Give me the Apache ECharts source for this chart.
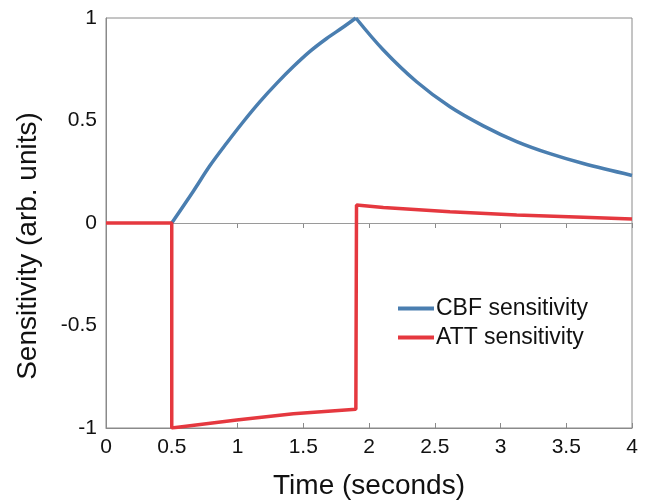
<!DOCTYPE html>
<html><head><meta charset="utf-8">
<script src="https://cdn.jsdelivr.net/npm/echarts@6/dist/echarts.min.js"></script>
<style>html,body{margin:0;padding:0;background:#fff;}#c{width:646px;height:502px;}</style>
</head><body><div id="c"></div>
<script>
var xTicks = [0, 0.5, 1, 1.5, 2, 2.5, 3, 3.5, 4];
var yTicks = [-1, -0.5, 0, 0.5, 1];
var cbfRiseTime = [0.5, 0.664, 0.791, 0.918, 1.044, 1.171, 1.298, 1.425, 1.551, 1.678, 1.805, 1.9];
var cbfRiseValue = [0, 0.155, 0.280, 0.390, 0.494, 0.592, 0.681, 0.763, 0.837, 0.900, 0.956, 1.0];
var cbfFallTime = [1.9, 2.109, 2.362, 2.616, 2.869, 3.123, 3.376, 3.63, 4.0];
var cbfFallValue = [1.0, 0.844, 0.689, 0.567, 0.474, 0.397, 0.338, 0.290, 0.232];
var attTime = [0, 0.5, 0.5, 0.994, 1.425, 1.9, 1.905, 2.109, 2.616, 3.123, 3.63, 4.0];
var attValue = [0, 0, -1.0, -0.961, -0.930, -0.909, 0.088, 0.076, 0.055, 0.039, 0.028, 0.0195];
var seriesNames = ['CBF sensitivity', 'ATT sensitivity'];

function pairs(t, v) { return t.map(function (x, i) { return [x, v[i]]; }); }

var FONT = '"Liberation Sans", Arial, Helvetica, sans-serif';
var BLUE = '#4a7eb0', RED = '#e5383f';
var chart = echarts.init(document.getElementById('c'), null, {renderer: 'canvas'});
var axisGray = '#8a8a8a';
chart.setOption({
  animation: false,
  backgroundColor: '#fff',
  grid: {left: 106, right: 14, top: 18, bottom: 74, outerBoundsMode: 'none', containLabel: false,
    show: true, borderColor: axisGray, borderWidth: 1, backgroundColor: 'transparent'},
  legend: {
    orient: 'vertical', left: 398, top: 297, padding: 0, itemWidth: 36, itemHeight: 4, itemGap: 6, icon: 'rect',
    textStyle: {fontFamily: FONT, fontSize: 23, lineHeight: 23, color: '#111', padding: [0, 0, 0, -3]},
    data: seriesNames
  },
  xAxis: [{
    type: 'value', min: xTicks[0], max: xTicks[xTicks.length - 1], interval: 0.5,
    name: 'Time (seconds)', nameLocation: 'middle', nameGap: 44,
    nameTextStyle: {fontFamily: FONT, fontSize: 28, color: '#111'},
    axisLine: {show: true, onZero: false, lineStyle: {color: axisGray, width: 1}},
    axisTick: {show: true, inside: true, length: 5, lineStyle: {color: axisGray}},
    axisLabel: {fontFamily: FONT, fontSize: 21, color: '#111', margin: 9},
    splitLine: {show: false}
  }, {
    type: 'value', position: 'top', min: xTicks[0], max: xTicks[xTicks.length - 1], interval: 0.5,
    axisLine: {show: false},
    axisTick: {show: true, inside: true, length: 5, lineStyle: {color: axisGray}},
    axisLabel: {show: false}, splitLine: {show: false}
  }],
  yAxis: {
    type: 'value', min: yTicks[0], max: yTicks[yTicks.length - 1], interval: 0.5,
    name: 'Sensitivity (arb. units)', nameLocation: 'middle', nameGap: 64,
    nameTextStyle: {fontFamily: FONT, fontSize: 28, color: '#111', padding: [0, 46, 0, 0]},
    axisLine: {show: true, lineStyle: {color: axisGray, width: 1}},
    axisTick: {show: false},
    axisLabel: {fontFamily: FONT, fontSize: 21, color: '#111', margin: 9,
      formatter: function (v) { return String(v); }},
    splitLine: {show: false}
  },
  series: [{
    name: seriesNames[0], type: 'line', data: pairs(cbfRiseTime, cbfRiseValue), smooth: 0.35,
    symbol: 'none', color: BLUE, lineStyle: {width: 3.5, color: BLUE}, z: 3,
    markLine: {silent: true, symbol: 'none', label: {show: false},
      lineStyle: {color: '#9a9a9a', width: 1, type: 'solid'}, data: [{yAxis: 0}], z: 1}
  }, {
    name: seriesNames[0], type: 'line', data: pairs(cbfFallTime, cbfFallValue), smooth: 0.35,
    symbol: 'none', color: BLUE, lineStyle: {width: 3.5, color: BLUE}, z: 3
  }, {
    name: seriesNames[1], type: 'line', data: pairs(attTime, attValue), smooth: false,
    symbol: 'none', color: RED, lineStyle: {width: 3.5, color: RED}, z: 4
  }]
});
</script></body></html>
